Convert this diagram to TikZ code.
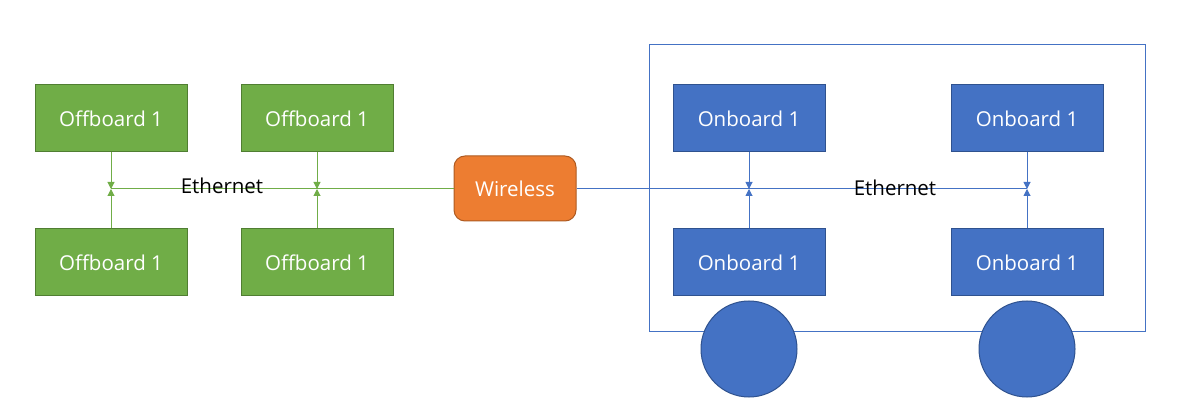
\documentclass[tikz,border=0pt]{standalone}
\usepackage{fontspec}
\setmainfont{Open Sans}
\usetikzlibrary{arrows.meta}
\definecolor{gfill}{HTML}{70AD47}
\definecolor{gdraw}{HTML}{507E32}
\definecolor{bfill}{HTML}{4472C4}
\definecolor{bdraw}{HTML}{2F528F}
\definecolor{ofill}{HTML}{ED7D31}
\definecolor{odraw}{HTML}{AE5A21}
\tikzset{
  boxbase/.style={rectangle, minimum width=152pt, minimum height=67pt, inner sep=0pt, line width=1pt, text=white, font=\fontsize{20.5}{24}\selectfont},
  offbox/.style={boxbase, fill=gfill, draw=gdraw},
  onbox/.style={boxbase, fill=bfill, draw=bdraw},
  wirebox/.style={rectangle, rounded corners=11pt, minimum width=122pt, minimum height=65pt, inner sep=0pt, line width=1pt, fill=ofill, draw=odraw, text=white, font=\fontsize{20.5}{24}\selectfont},
  wheel/.style={circle, minimum size=96pt, inner sep=0pt, fill=bfill, draw=bdraw, line width=1pt},
  glink/.style={draw=gfill, line width=1pt},
  blink/.style={draw=bfill, line width=1pt},
  tip/.style={-{Triangle[width=7pt,length=7pt]}},
  lbl/.style={text=black, font=\fontsize{20.5}{24}\selectfont, inner sep=0pt}
}
\begin{document}
\begin{tikzpicture}[x=1pt,y=-1pt]
\useasboundingbox (0,0) rectangle (1196,411);
% vehicle frame
\node[draw=bfill, line width=1pt, minimum width=496pt, minimum height=287pt, inner sep=0pt] (frame) at (897,188.5) {};
% offboard
\node[offbox] (o1) at (111,118.5) {Offboard 1};
\node[offbox] (o2) at (317,118.5) {Offboard 1};
\node[offbox] (o3) at (111,262.5) {Offboard 1};
\node[offbox] (o4) at (317,262.5) {Offboard 1};
% wireless
\node[wirebox] (w) at (515,188.5) {Wireless};
% onboard
\node[onbox] (n1) at (749,118.5) {Onboard 1};
\node[onbox] (n2) at (1027,118.5) {Onboard 1};
\node[onbox] (n3) at (749,262.5) {Onboard 1};
\node[onbox] (n4) at (1027,262.5) {Onboard 1};
% wheels
\node[wheel] (wh1) at (749,349) {};
\node[wheel] (wh2) at (1027,349) {};
% junctions
\coordinate (g1) at (111,189);
\coordinate (g2) at (317,189);
\coordinate (b1) at (749,189);
\coordinate (b2) at (1027,189);
% ethernet buses
\draw[glink] (g1) -- (w.west |- g1);
\draw[blink] (w.east |- b1) -- (b2);
% drops
\draw[glink, tip] (o1.south) -- (g1);
\draw[glink, tip] (o3.north) -- (g1);
\draw[glink, tip] (o2.south) -- (g2);
\draw[glink, tip] (o4.north) -- (g2);
\draw[blink, tip] (n1.south) -- (b1);
\draw[blink, tip] (n3.north) -- (b1);
\draw[blink, tip] (n2.south) -- (b2);
\draw[blink, tip] (n4.north) -- (b2);
% labels
\node[lbl] (e1) at (222,186) {Ethernet};
\node[lbl] (e2) at (895,188) {Ethernet};
\end{tikzpicture}
\end{document}
